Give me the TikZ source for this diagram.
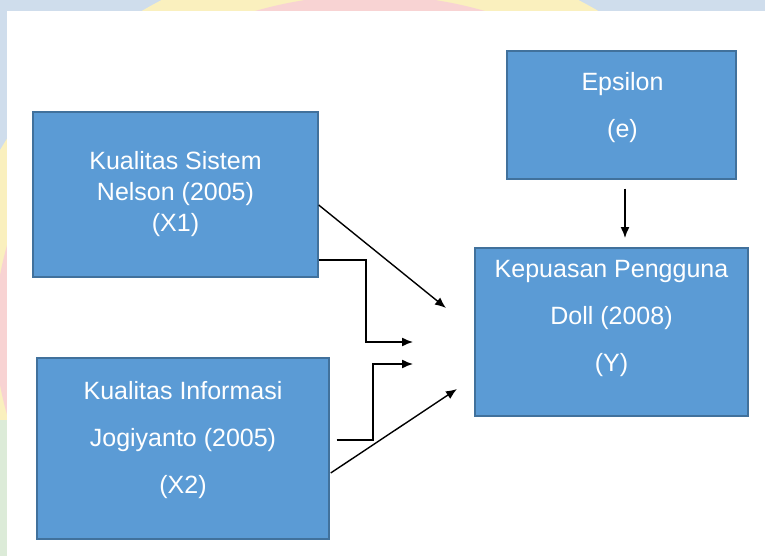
\documentclass[tikz,border=0pt]{standalone}
\usepackage{fontspec}
\setmainfont{Liberation Sans}
\usetikzlibrary{calc,arrows.meta}
\definecolor{boxblue}{HTML}{5B9BD5}
\definecolor{boxedge}{HTML}{41719C}
\definecolor{wmblue}{HTML}{CFDDEC}
\definecolor{wmyellow}{HTML}{FAF0BE}
\definecolor{wmpink}{HTML}{F8D3D3}
\definecolor{wmgreen}{HTML}{DCEBD8}
\tikzset{
	varbox/.style={draw=boxedge, line width=1.4pt, fill=boxblue, inner sep=0pt},
	vartext/.style={text=white, align=center, inner sep=0pt, font=\fontsize{25}{47}\selectfont},
	path/.style={line width=1.4pt, -{Latex[length=11pt,width=9pt]}}
}

\begin{document}
\begin{tikzpicture}[x=1pt, y=-1pt]
			%%%%% START %%%%%
			
			\useasboundingbox (0, 0) rectangle (765, 556);
			
			% watermark strips behind the page
			\begin{scope}
				\clip (0, 0) rectangle (765, 556);
				\fill[wmblue] (0, 0) rectangle (765, 556);
				\fill[wmyellow] (370, 330) ellipse (420 and 380);
				\fill[wmpink] (370, 330) ellipse (375 and 335);
				\fill[wmgreen] (0, 420) rectangle (40, 556);
				\fill[white] (7, 11) rectangle (765, 556);
			\end{scope}
			
			\node[varbox, minimum width=285, minimum height=165] (x1) at (175.5, 194.5) {};
			\node[vartext, font=\fontsize{25}{31}\selectfont] (x1lab) at (x1) {Kualitas Sistem\\Nelson (2005)\\(X1)};
			
			\node[varbox, minimum width=292, minimum height=181] (x2) at (183, 448.5) {};
			\node[vartext] (x2lab) at ($(x2)+(0, -8)$) {Kualitas Informasi\\Jogiyanto (2005)\\(X2)};
			
			\node[varbox, minimum width=229, minimum height=128] (eps) at (621.5, 115) {};
			\node[vartext] (epslab) at ($(eps)+(1, -7.5)$) {Epsilon\\(e)};
			
			\node[varbox, minimum width=273, minimum height=168] (y) at (611.5, 332) {};
			\node[vartext] (ylab) at ($(y)+(0, -14)$) {Kepuasan Pengguna\\Doll (2008)\\(Y)};
			
			% free ends of the arrows
			\coordinate (x1tip) at (446, 308);
			\coordinate (x1bend) at (413, 342);
			\coordinate (x2bend) at (413, 364);
			\coordinate (x2tip) at (457, 389);
			\coordinate (epstip) at (625, 238);
			
			\draw[path] ($(x1.east)+(0, 10.5)$) -- (x1tip);
			\draw[path] ($(x1.east)+(0, 65.5)$) -| (366, 342) -- (x1bend);
			\draw[path] ($(x2.east)+(7, -8.5)$) -| (373, 364) -- (x2bend);
			\draw[path] ($(x2.east)+(1, 24.5)$) -- (x2tip);
			\draw[path] ($(eps.south)+(3.5, 9)$) -- (epstip);
			
			%%%%% END %%%%%
		\end{tikzpicture}
\end{document}
